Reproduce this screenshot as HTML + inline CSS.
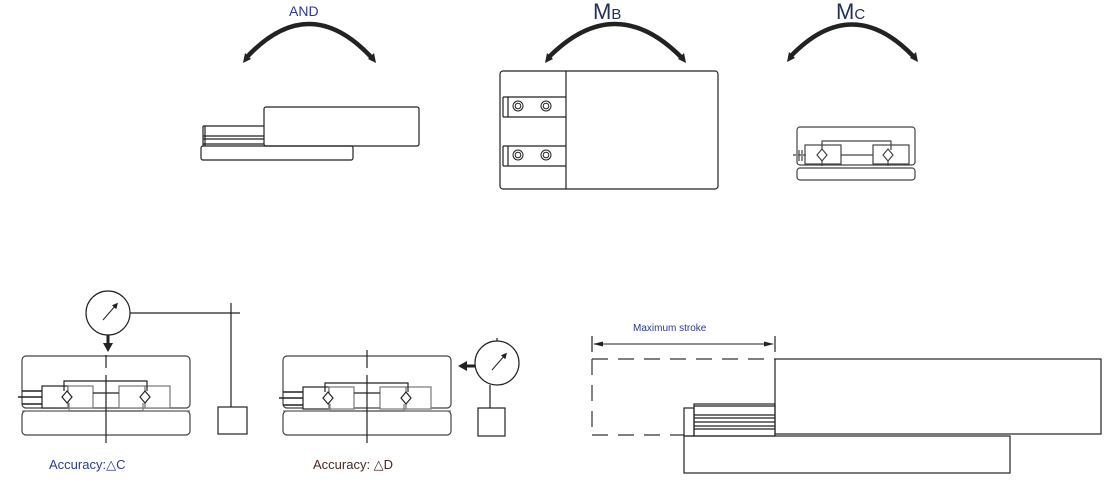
<!DOCTYPE html>
<html><head><meta charset="utf-8"><style>
html,body{margin:0;padding:0;background:#fff;}
svg{display:block;}
text{font-family:"Liberation Sans","DejaVu Sans",sans-serif;}
</style></head><body>
<svg width="1109" height="489" viewBox="0 0 1109 489" xmlns="http://www.w3.org/2000/svg">
<defs>
<marker id="ah" markerWidth="6" markerHeight="6" refX="3" refY="3" orient="auto" markerUnits="strokeWidth"><path d="M0,0 L6,3 L0,6 z" fill="#222"/></marker>
</defs>
<g fill="none" stroke="#222" stroke-width="1.2">

<path d="M246,58 Q309,-10 372,58" stroke-width="4.5" stroke="#222"/>
<path d="M243,63 l2,-10 l6,6 z" fill="#222" stroke="none"/>
<path d="M376,63 l-2,-10 l-6,6 z" fill="#222" stroke="none"/>
<path d="M548,58 Q615,-10 682,58" stroke-width="4.5"/>
<path d="M545,63 l2,-10 l6,6 z" fill="#222" stroke="none"/>
<path d="M686,63 l-2,-10 l-6,6 z" fill="#222" stroke="none"/>
<path d="M790,57 Q852,-8 914,57" stroke-width="4.5"/>
<path d="M787,62 l2,-10 l6,6 z" fill="#222" stroke="none"/>
<path d="M918,62 l-2,-10 l-6,6 z" fill="#222" stroke="none"/>

<rect x="264" y="107" width="155" height="39" rx="2"/>
<rect x="201" y="146" width="152" height="14" rx="2"/>
<path d="M203,126 H264 M203,136 H264 M203,139 H264 M203,144 H264 M203,126 V146 M205,126 V146"/>

<rect x="500" y="71" width="218" height="118" rx="3"/>
<line x1="566" y1="71" x2="566" y2="189"/>
<path d="M503,97 H566 M503,117 H566 M503,97 V117 M508,97 V117"/>
<path d="M503,146 H566 M503,166 H566 M503,146 V166 M508,146 V166"/>
<g stroke-width="1">
<circle cx="518" cy="106" r="5"/><circle cx="518" cy="106" r="2.8"/>
<circle cx="546" cy="106" r="5"/><circle cx="546" cy="106" r="2.8"/>
<circle cx="518" cy="155" r="5"/><circle cx="518" cy="155" r="2.8"/>
<circle cx="546" cy="155" r="5"/><circle cx="546" cy="155" r="2.8"/>
</g>

<g stroke="#444">
<rect x="797" y="127" width="118" height="38" rx="3"/>
<rect x="797" y="168" width="118" height="12" rx="3"/>
<rect x="805" y="145" width="36" height="19"/>
<rect x="873" y="145" width="36" height="19"/>
<path d="M822,150 V141 H891 V150 M841,155 H873"/>
<path d="M822,160 V166 M888,160 V166"/>
<path d="M822,149 l5,6 l-5,6 l-5,-6 z M888,149 l5,6 l-5,6 l-5,-6 z" fill="#fff"/>
<path d="M793,155 H808" stroke-dasharray="3,2"/>
<path d="M799,150 V161 M802,150 V161"/>
</g>

<circle cx="108" cy="313" r="22"/>
<line x1="103" y1="320" x2="116" y2="305" marker-end="url(#ah)" stroke-width="1"/>
<line x1="108" y1="335" x2="108" y2="344" stroke-width="3"/>
<path d="M103,343 L113,343 L108,352 z" fill="#222" stroke="none"/>
<line x1="130" y1="313" x2="240" y2="313"/>
<line x1="231" y1="303" x2="231" y2="407"/>
<rect x="218" y="407" width="29" height="27"/>
<rect x="22" y="356" width="168" height="52" rx="4" stroke="#444"/>
<rect x="22" y="411" width="168" height="24" rx="4" stroke="#444"/>
<line x1="106" y1="355" x2="106" y2="443"/>
<line x1="106" y1="368" x2="106" y2="375" stroke="#fff" stroke-width="2"/>
<rect x="42" y="386" width="26" height="22" fill="#fff"/>
<rect x="68" y="386" width="25" height="22" stroke="#777" fill="#fff"/>
<rect x="119" y="386" width="26" height="22" stroke="#777" fill="#fff"/>
<rect x="145" y="386" width="25" height="22" stroke="#777" fill="#fff"/>
<path d="M64,391 V381 H147 V391 M93,393 H119"/>
<path d="M69,403 V411 H22 M143,403 V411 H190" stroke="#777"/>
<path d="M67,391 l5,6 l-5,6 l-5,-6 z M145,391 l5,6 l-5,6 l-5,-6 z" fill="#fff"/>
<path d="M18,397 H42 M22,391 H42 M22,404 H42" stroke-width="1.5"/>

<circle cx="497" cy="363" r="22"/>
<line x1="492" y1="370" x2="505" y2="355" marker-end="url(#ah)" stroke-width="1"/>
<line x1="497" y1="341" x2="497" y2="338"/>
<line x1="475" y1="366" x2="466" y2="366" stroke-width="3"/>
<path d="M467,361 L467,371 L458,366 z" fill="#222" stroke="none"/>
<line x1="490" y1="385" x2="490" y2="408"/>
<rect x="478" y="408" width="27" height="28"/>
<rect x="283" y="356" width="168" height="52" rx="4" stroke="#444"/>
<rect x="283" y="411" width="168" height="24" rx="4" stroke="#444"/>
<line x1="367" y1="350" x2="367" y2="443"/>
<line x1="367" y1="368" x2="367" y2="375" stroke="#fff" stroke-width="2"/>
<rect x="303" y="387" width="26" height="22" fill="#fff"/>
<rect x="329" y="387" width="25" height="22" stroke="#777" fill="#fff"/>
<rect x="380" y="387" width="26" height="22" stroke="#777" fill="#fff"/>
<rect x="406" y="387" width="25" height="22" stroke="#777" fill="#fff"/>
<path d="M325,392 V383 H408 V392 M354,393 H380"/>
<path d="M330,404 V411 H283 M404,404 V411 H451" stroke="#777"/>
<path d="M328,392 l5,6 l-5,6 l-5,-6 z M406,392 l5,6 l-5,6 l-5,-6 z" fill="#fff"/>
<path d="M279,398 H303 M283,392 H303 M283,405 H303" stroke-width="1.5"/>

<line x1="592" y1="336" x2="592" y2="352"/>
<line x1="775" y1="336" x2="775" y2="352"/>
<line x1="594" y1="344" x2="773" y2="344" stroke-width="1"/>
<path d="M593,344 l10,-2.5 v5 z M774,344 l-10,-2.5 v5 z" fill="#222" stroke="none"/>
<path d="M592,359 H775 M592,359 V435 M592,435 H684" stroke-dasharray="16,10" stroke="#333"/>
<rect x="775" y="359" width="326" height="75"/>
<rect x="684" y="436" width="326" height="37"/>
<rect x="684" y="408" width="10" height="28"/>
<rect x="694" y="404" width="81" height="32"/>
<path d="M694,406 H775 M694,415 H775 M694,418 H775 M694,422 H775 M694,426 H775 M694,429 H775"/>
</g>

<text x="289" y="16" font-size="14" fill="#2b3a8f">AND</text>
<text x="593" y="19" font-size="22" fill="#22305a">M<tspan font-size="15">B</tspan></text>
<text x="836" y="19" font-size="22" fill="#22305a">M<tspan font-size="15">C</tspan></text>
<text x="49" y="469" font-size="13" fill="#2b3a8f">Accuracy:△C</text>
<text x="313" y="469" font-size="13" fill="#4a2a22">Accuracy: △D</text>
<text x="633" y="331" font-size="10" fill="#2b3a8f">Maximum stroke</text>
</svg>
</body></html>
